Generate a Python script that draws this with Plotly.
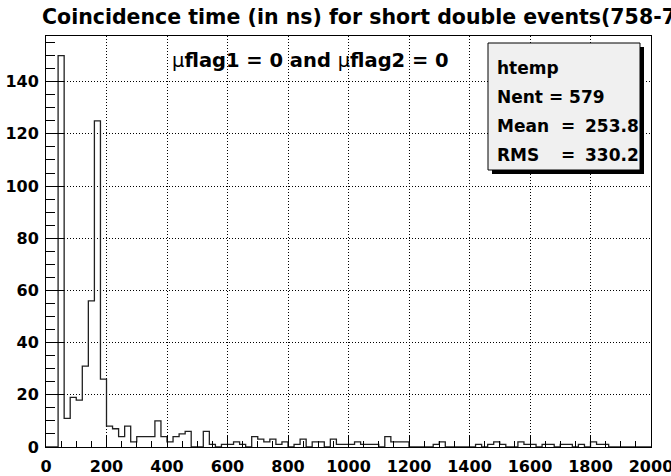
import numpy as np
import plotly.graph_objects as go

# Histogram of coincidence times: 100 bins of 20 ns from 0 to 2000 ns
bin_width = 20
counts = [
    0, 0, 150, 11, 19, 18, 31, 56, 125, 26,      # 0 - 200
    8, 7, 4, 8, 2, 4, 4, 4, 10, 4,               # 200 - 400
    2, 4, 5, 6, 0, 0, 6, 1, 0, 1,                # 400 - 600
    1, 2, 1, 0, 4, 3, 2, 3, 1, 2,                # 600 - 800
    0, 1, 3, 0, 2, 2, 0, 3, 1, 1,                # 800 - 1000
    1, 2, 1, 1, 1, 0, 4, 2, 2, 2,                # 1000 - 1200
    0, 0, 0, 0, 1, 2, 0, 0, 0, 0,                # 1200 - 1400
    0, 1, 0, 1, 2, 1, 0, 0, 2, 1,                # 1400 - 1600
    1, 0, 1, 1, 0, 1, 1, 0, 1, 0,                # 1600 - 1800
    2, 1, 1, 0, 0, 0, 0, 0, 0, 0,                # 1800 - 2000
]
x_ticks = [0, 200, 400, 600, 800, 1000, 1200, 1400, 1600, 1800, 2000]
y_ticks = [0, 20, 40, 60, 80, 100, 120, 140]

title_text = "Coincidence time (in ns) for short double events(758-759)"
cut_text = "μ<b>flag1 = 0 and </b>μ<b>flag2 = 0</b>"
stats_name = "htemp"
stats_entries = 579
stats_mean = "253.8"
stats_rms = "330.2"

W, H = 671, 476
L, R, T, B = 46, 20, 36, 29
PW, PH = W - L - R, H - T - B


def px(x):
    return (x - L) / PW


def py(y):
    return (H - B - y) / PH


edges = np.arange(0, bin_width * len(counts) + bin_width, bin_width)
steps = counts + [counts[-1]]

FONT = "DejaVu Sans"

fig = go.Figure()
fig.add_trace(go.Scatter(
    x=edges, y=steps, mode="lines",
    line=dict(shape="hv", color="#202020", width=1.3),
    hoverinfo="skip", showlegend=False,
))

axis_common = dict(
    showline=True, mirror=True, linecolor="black", linewidth=1,
    ticks="inside", tickcolor="black", tickwidth=1,
    showgrid=True, gridcolor="black", gridwidth=1, griddash="1px,2px",
    zeroline=False, automargin=False, ticklabeloverflow="allow",
    tickfont=dict(family=FONT, size=16, color="black", weight="bold"),
)

fig.update_layout(
    width=W, height=H,
    margin=dict(l=L, r=R, t=T, b=B, pad=0),
    paper_bgcolor="white", plot_bgcolor="white",
    xaxis=dict(
        range=[0, 2000], tickmode="array", tickvals=x_ticks,
        ticktext=[str(v) for v in x_ticks], ticklen=12,
        ticklabelstandoff=5,
        minor=dict(tickmode="linear", tick0=0, dtick=50, ticks="inside",
                   ticklen=6, tickcolor="black", showgrid=False),
        **axis_common,
    ),
    yaxis=dict(
        range=[0, 157.5], tickmode="array", tickvals=y_ticks,
        ticktext=[str(v) for v in y_ticks], ticklen=18,
        ticklabelstandoff=3,
        minor=dict(tickmode="linear", tick0=0, dtick=5, ticks="inside",
                   ticklen=9, tickcolor="black", showgrid=False),
        **axis_common,
    ),
)

# Title (runs past the right edge of the canvas)
fig.add_annotation(
    text=f"<b>{title_text}</b>", xref="paper", yref="paper",
    x=px(40), y=py(17), xanchor="left", yanchor="middle", showarrow=False,
    font=dict(family=FONT, size=20.5, color="black"),
)

# Selection cut label
fig.add_annotation(
    text=cut_text, xref="paper", yref="paper",
    x=px(170), y=py(60), xanchor="left", yanchor="middle", showarrow=False,
    font=dict(family=FONT, size=19.5, color="black"),
)

# Statistics box with shadow
fig.add_shape(type="rect", xref="paper", yref="paper",
              x0=px(492), x1=px(644), y0=py(174), y1=py(47),
              fillcolor="black", line=dict(width=0), layer="above")
fig.add_shape(type="rect", xref="paper", yref="paper",
              x0=px(488), x1=px(640), y0=py(170), y1=py(43),
              fillcolor="#f0f0f0", line=dict(color="black", width=1),
              layer="above")

stat_font = dict(family=FONT, size=17, color="black")
rows = [
    (68, stats_name, None, None),
    (97, f"Nent = {stats_entries}", None, None),
    (126, "Mean", "=", stats_mean),
    (155, "RMS", "=", stats_rms),
]
for yy, label, eq, val in rows:
    fig.add_annotation(text=f"<b>{label}</b>", xref="paper", yref="paper",
                       x=px(495), y=py(yy), xanchor="left", yanchor="middle",
                       showarrow=False, font=stat_font)
    if eq:
        fig.add_annotation(text=f"<b>{eq}</b>", xref="paper", yref="paper",
                           x=px(568), y=py(yy), xanchor="center",
                           yanchor="middle", showarrow=False, font=stat_font)
        fig.add_annotation(text=f"<b>{val}</b>", xref="paper", yref="paper",
                           x=px(641), y=py(yy), xanchor="right",
                           yanchor="middle", showarrow=False, font=stat_font)

fig.write_html("out.html")
